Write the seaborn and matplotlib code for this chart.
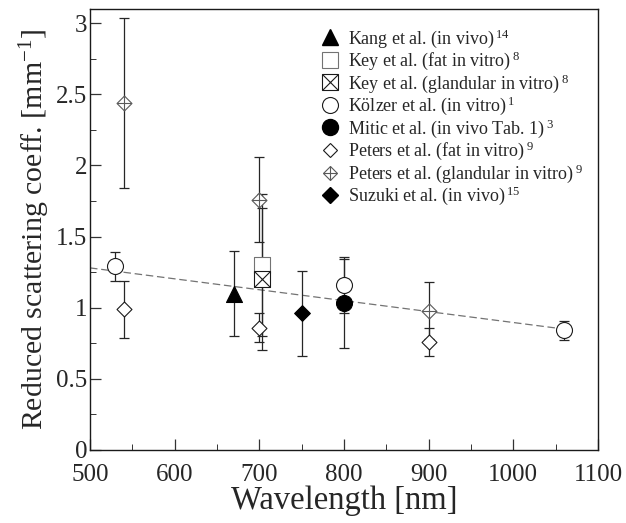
import numpy as np
import matplotlib
matplotlib.use('Agg')
import matplotlib.pyplot as plt
import seaborn as sns
from matplotlib.lines import Line2D
from matplotlib.legend_handler import HandlerTuple
from matplotlib.ticker import MultipleLocator

sns.set_style('ticks')
plt.rcParams['font.family'] = ['Liberation Serif', 'DejaVu Serif']
plt.rcParams['mathtext.fontset'] = 'custom'
plt.rcParams['mathtext.rm'] = 'Liberation Serif'
plt.rcParams['mathtext.default'] = 'regular'

# values (wavelength nm, reduced scattering mm^-1, +/- error)
kang_x = [670]
kang_y = [1.10]
kang_err = [0.30]

key_fat_x = [703]
key_fat_y = [1.30]
key_fat_err = [0.50]

key_gland_x = [703]
key_gland_y = [1.20]
key_gland_err = [0.50]

kolzer_x = [530, 800, 1060]
kolzer_y = [1.29, 1.16, 0.84]
kolzer_err = [0.10, 0.20, 0.07]

mitic_x = [800]
mitic_y = [1.03]
mitic_err = [0.31]

peters_fat_x = [540, 700, 900]
peters_fat_y = [0.99, 0.86, 0.76]
peters_fat_err = [0.20, 0.10, 0.10]

peters_gland_x = [540, 700, 900]
peters_gland_y = [2.44, 1.76, 0.98]
peters_gland_err = [0.60, 0.30, 0.20]

suzuki_x = [750]
suzuki_y = [0.96]
suzuki_err = [0.30]

fit_x = [500, 1060]
fit_y = [1.28, 0.85]

labels = [
    'Kang et al. (in vivo)$^{\\,14}$',
    'Key et al. (fat in vitro)$^{\\,8}$',
    'Key et al. (glandular in vitro)$^{\\,8}$',
    'Kölzer et al. (in vitro)$^{\\,1}$',
    'Mitic et al. (in vivo Tab. 1)$^{\\,3}$',
    'Peters et al. (fat in vitro)$^{\\,9}$',
    'Peters et al. (glandular in vitro)$^{\\,9}$',
    'Suzuki et al. (in vivo)$^{\\,15}$',
]

fig = plt.figure(figsize=(6.26, 5.23), dpi=100)
ax = fig.add_axes([0.1438, 0.1396, 0.8115, 0.8432])

# fit line
sns.lineplot(x=fit_x, y=fit_y, ax=ax, color='0.45', lw=0.9, zorder=1)
ax.lines[-1].set_dashes([6, 3])

ebkw = dict(fmt='none', ecolor='0.15', elinewidth=0.9, capsize=3.5, capthick=0.9, zorder=2)
for xs, ys, es in [(kang_x, kang_y, kang_err), (key_fat_x, key_fat_y, key_fat_err),
                   (key_gland_x, key_gland_y, key_gland_err), (kolzer_x, kolzer_y, kolzer_err),
                   (mitic_x, mitic_y, mitic_err), (peters_fat_x, peters_fat_y, peters_fat_err),
                   (peters_gland_x, peters_gland_y, peters_gland_err), (suzuki_x, suzuki_y, suzuki_err)]:
    ax.errorbar(xs, ys, yerr=es, **ebkw)

# markers
def pts(xs, ys, marker, size, fc, ec='0.1', lw=0.8):
    sns.scatterplot(x=xs, y=ys, marker=marker, s=size ** 2, facecolor=fc, edgecolor=ec,
                    linewidth=lw, ax=ax, zorder=3)

pts(kang_x, kang_y, '^', 11.5, 'black', 'black')
pts(key_fat_x, key_fat_y, 's', 11, 'white', '0.45')
pts(key_gland_x, key_gland_y, 's', 11, 'white')
ax.plot(key_gland_x, key_gland_y, 'x', ms=11, color='0.1', mew=0.8, zorder=4)
pts(kolzer_x, kolzer_y, 'o', 11.5, 'white')
pts(mitic_x, mitic_y, 'o', 11.5, 'black', 'black')
pts(peters_fat_x, peters_fat_y, 'D', 7.6, 'white')
pts(peters_gland_x, peters_gland_y, 'D', 7.6, 'white', '0.35')
ax.plot(peters_gland_x, peters_gland_y, '+', ms=10.7, color='0.35', mew=0.8, zorder=4)
pts(suzuki_x, suzuki_y, 'D', 8, 'black', 'black')

ax.set_xlim(500, 1100)
ax.set_ylim(0, 3.1)
ax.xaxis.set_major_locator(MultipleLocator(100))
ax.xaxis.set_minor_locator(MultipleLocator(50))
ax.yaxis.set_minor_locator(MultipleLocator(0.25))
ax.set_yticks([0, 0.5, 1, 1.5, 2, 2.5, 3])
ax.set_yticklabels(['0', '0.5', '1', '1.5', '2', '2.5', '3'])
ax.tick_params(which='both', direction='in', labelsize=18, color='0.2')
ax.tick_params(axis='x', pad=10)
ax.tick_params(axis='y', pad=2)
ax.tick_params(which='major', length=8, width=0.9)
ax.tick_params(which='minor', length=4, width=0.7)
for s in ax.spines.values():
    s.set_linewidth(1.0)
    s.set_color('0.1')

ax.set_xlabel('Wavelength [nm]', fontsize=23.5, labelpad=0)
ax.set_ylabel('Reduced scattering coeff. [mm$^{-1}$]', fontsize=21.5, labelpad=3)

k = dict(linestyle='none')
handles = [
    Line2D([], [], marker='^', ms=11.5, mfc='black', mec='black', **k),
    Line2D([], [], marker='s', ms=11, mfc='white', mec='0.45', mew=0.8, **k),
    (Line2D([], [], marker='s', ms=11, mfc='white', mec='0.1', mew=0.8, **k),
     Line2D([], [], marker='x', ms=11, color='0.1', mew=0.8, **k)),
    Line2D([], [], marker='o', ms=11.5, mfc='white', mec='0.1', mew=0.8, **k),
    Line2D([], [], marker='o', ms=11.5, mfc='black', mec='black', **k),
    Line2D([], [], marker='D', ms=7.6, mfc='white', mec='0.1', mew=0.8, **k),
    (Line2D([], [], marker='D', ms=7.6, mfc='white', mec='0.35', mew=0.8, **k),
     Line2D([], [], marker='+', ms=10.7, color='0.35', mew=0.8, **k)),
    Line2D([], [], marker='D', ms=8, mfc='black', mec='black', **k),
]
ax.legend(handles, labels, handler_map={tuple: HandlerTuple(ndivide=1, pad=0)},
          loc='upper left', bbox_to_anchor=(0.44, 0.975), frameon=False, fontsize=13,
          handlelength=1.0, handletextpad=0.5, labelspacing=0.0, borderaxespad=0)

fig.savefig('out.png', dpi=100)
